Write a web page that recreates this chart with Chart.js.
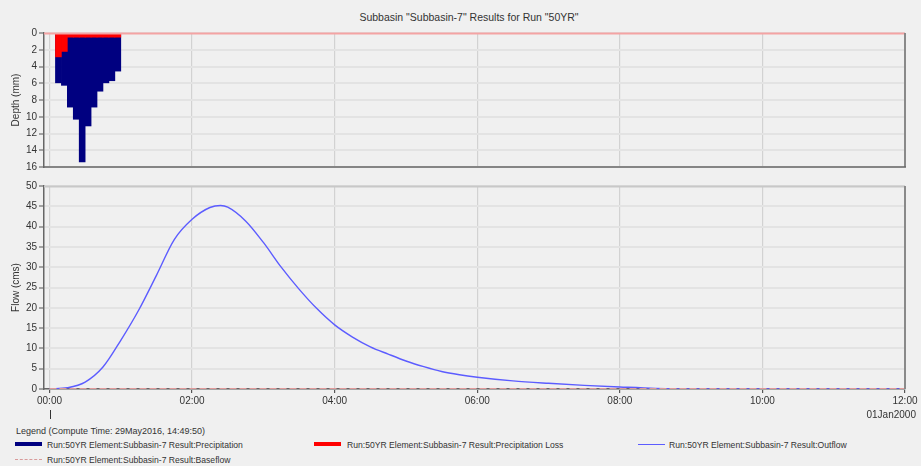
<!DOCTYPE html>
<html>
<head>
<meta charset="utf-8">
<script src="https://cdn.jsdelivr.net/npm/chart.js@4.4.0/dist/chart.umd.min.js"></script>
<style>
  body { margin: 0; background: #f0f0f0; font-family: "Liberation Sans", Arial, sans-serif; color: #333; }
  #wrap { position: relative; width: 921px; height: 466px; overflow: hidden; }
  #title { position: absolute; top: 11px; left: 0; width: 938px; text-align: center; font-size: 10.5px; color: #333; }
  canvas { position: absolute; left: 0; }
  #depthCanvas { top: 0; }
  #flowCanvas { top: 175px; }
  .txt { position: absolute; font-size: 8.6px; color: #333; white-space: nowrap; }
  .sw { position: absolute; width: 27px; }
</style>
</head>
<body>
<div id="wrap">
  <div id="title">Subbasin "Subbasin-7" Results for Run "50YR"</div>
  <canvas id="depthCanvas" width="921" height="175"></canvas>
  <canvas id="flowCanvas" width="921" height="250"></canvas>

  <div class="txt" style="top:409px; right:5px; font-size:10px;">01Jan2000</div>
  <div class="txt" style="top:426px; left:16px; font-size:9px;">Legend (Compute Time: 29May2016, 14:49:50)</div>

  <div class="sw" style="top:442px; left:15px; height:4px; background:#000080;"></div>
  <div class="txt" style="top:440px; left:47px;">Run:50YR Element:Subbasin-7 Result:Precipitation</div>

  <div class="sw" style="top:442px; left:314px; height:4px; background:#ff0000;"></div>
  <div class="txt" style="top:440px; left:347px;">Run:50YR Element:Subbasin-7 Result:Precipitation Loss</div>

  <div class="sw" style="top:444px; left:638px; height:1px; background:#5c5cff;"></div>
  <div class="txt" style="top:440px; left:669px;">Run:50YR Element:Subbasin-7 Result:Outflow</div>

  <div class="sw" style="top:459px; left:15px; height:0; border-top:1px dashed #d89a9a;"></div>
  <div class="txt" style="top:455px; left:47px;">Run:50YR Element:Subbasin-7 Result:Baseflow</div>
</div>

<script>
// ---------------------------------------------------------
// Data
// ---------------------------------------------------------
// x axis tick marks, hours from 01Jan2000 00:00
const tickHours = [0, 2, 4, 6, 8, 10, 12];

// 5-minute precipitation intervals, end time in minutes
const precipEndMin = [10, 15, 20, 25, 30, 35, 40, 45, 50, 55, 60];
const precipDepth  = [5.95, 6.25, 8.85, 10.3, 15.4, 11.1, 8.85, 6.95, 5.95, 5.7, 4.55];
const lossDepth    = [2.85, 2.2, 0.5, 0.5, 0.5, 0.5, 0.5, 0.5, 0.5, 0.5, 0.5];

// outflow hydrograph (hours, cms)
const flowHours = [0, 0.25, 0.5, 0.75, 1, 1.25, 1.5, 1.75, 2, 2.25, 2.4, 2.5, 2.75, 3, 3.25, 3.5, 3.75,
                   4, 4.25, 4.5, 4.75, 5, 5.25, 5.5, 5.75, 6, 6.5, 7, 7.5, 8, 8.5, 9, 10, 11, 12];
const outflow   = [0, 0.3, 1.7, 5.4, 12.0, 19.4, 28.0, 36.8, 41.8, 44.7, 45.2, 44.8, 41.4, 36.1, 30.0, 24.6, 19.8,
                   15.8, 12.8, 10.4, 8.6, 6.9, 5.5, 4.3, 3.5, 2.9, 2.0, 1.4, 0.9, 0.5, 0.15, 0, 0, 0, 0];
const baseflow  = [0, 0];
const baseHours = [0, 12];

// ---------------------------------------------------------
// Shared layout bits
// ---------------------------------------------------------
const PLOT_LEFT = 44;
const X_MIN = -(49.5 - PLOT_LEFT) / ((905 - 49.5) / 12);   // small margin before 00:00
const TICK_FONT = { family: "Liberation Sans, Arial, sans-serif", size: 10 };
const TEXT = '#333';

const pad2 = n => String(n).padStart(2, '0');

// plot frame: right edge, top edge, bottom edge when the x axis has no border
function framePlugin(topColor, drawBottom) {
  return {
    id: 'frame',
    afterDraw(chart) {
      const { ctx, chartArea: a } = chart;
      ctx.save();
      ctx.lineWidth = 2;
      ctx.strokeStyle = topColor;
      ctx.beginPath(); ctx.moveTo(a.left, a.top + 0.5); ctx.lineTo(a.right, a.top + 0.5); ctx.stroke();
      ctx.strokeStyle = '#8a8a8a';
      ctx.beginPath(); ctx.moveTo(a.right, a.top); ctx.lineTo(a.right, a.bottom); ctx.stroke();
      if (drawBottom) {
        ctx.lineWidth = 1.5;
        ctx.strokeStyle = '#666';
        ctx.beginPath(); ctx.moveTo(a.left, a.bottom); ctx.lineTo(a.right + 1, a.bottom); ctx.stroke();
      }
      ctx.restore();
    }
  };
}

// date boundary marker under 00:00
const dayMarker = {
  id: 'dayMarker',
  afterDraw(chart) {
    const x = Math.round(chart.scales.x.getPixelForValue(0)) + 0.5;
    const ctx = chart.ctx;
    ctx.save();
    ctx.strokeStyle = '#333';
    ctx.lineWidth = 1;
    ctx.beginPath(); ctx.moveTo(x, 235); ctx.lineTo(x, 244); ctx.stroke();
    ctx.restore();
  }
};

function xScale(showTicks, height) {
  return {
    type: 'linear',
    min: X_MIN,
    max: 12,
    offset: false,
    afterBuildTicks: s => { s.ticks = tickHours.map(v => ({ value: v })); },
    afterFit: s => { s.height = height; },
    ticks: {
      display: showTicks,
      autoSkip: false,
      maxRotation: 0,
      padding: 2,
      color: TEXT,
      font: TICK_FONT,
      callback: v => pad2(v) + ':00'
    },
    grid: { offset: false, color: '#d2d2d2', lineWidth: 1.2, drawTicks: showTicks, tickColor: '#555', tickLength: 4 },
    border: { display: showTicks, color: '#666', width: 1.5 }
  };
}

function yScale(opts) {
  return Object.assign({
    afterFit: s => { s.width = PLOT_LEFT; },
    ticks: { color: TEXT, font: TICK_FONT, padding: 2, autoSkip: false },
    grid: { color: '#e3e3e3', lineWidth: 2, tickColor: '#555', tickLength: 5, tickWidth: 1 },
    border: { color: '#666', width: 1.5 }
  }, opts);
}

// ---------------------------------------------------------
// Top panel: precipitation hyetograph (inverted)
// ---------------------------------------------------------
const intervalMid = precipEndMin.map(m => (m - 2.5) / 60);

new Chart(document.getElementById('depthCanvas'), {
  type: 'bar',
  data: {
    datasets: [
      {
        label: 'Precipitation Loss',
        data: intervalMid.map((x, i) => ({ x, y: lossDepth[i] })),
        backgroundColor: '#ff0000',
        grouped: false, barPercentage: 1, categoryPercentage: 1, order: 1
      },
      {
        label: 'Precipitation',
        data: intervalMid.map((x, i) => ({ x, y: precipDepth[i] })),
        backgroundColor: '#000080',
        grouped: false, barPercentage: 1, categoryPercentage: 1, order: 2
      }
    ]
  },
  options: {
    responsive: false,
    animation: false,
    layout: { padding: { top: 33, right: 16, bottom: 0, left: 0 } },
    plugins: { legend: { display: false }, tooltip: { enabled: false } },
    scales: {
      x: xScale(false, 7),
      y: yScale({
        reverse: true, min: 0, max: 16,
        ticks: { stepSize: 2, color: TEXT, font: TICK_FONT, padding: 2, autoSkip: false },
        title: { display: true, text: 'Depth (mm)', color: TEXT, font: TICK_FONT, padding: { top: 10, bottom: 0 } }
      })
    }
  },
  plugins: [framePlugin('#f4a3a3', true)]
});

// ---------------------------------------------------------
// Bottom panel: outflow hydrograph
// ---------------------------------------------------------
new Chart(document.getElementById('flowCanvas'), {
  type: 'line',
  data: {
    datasets: [
      {
        label: 'Outflow',
        data: flowHours.map((x, i) => ({ x, y: outflow[i] })),
        borderColor: '#5c5cff',
        borderWidth: 1.4,
        pointRadius: 0,
        cubicInterpolationMode: 'monotone',
        order: 2
      },
      {
        label: 'Baseflow',
        data: baseHours.map((x, i) => ({ x, y: baseflow[i] })),
        borderColor: '#e09a9a',
        borderWidth: 2,
        borderDash: [7, 3],
        pointRadius: 0,
        order: 1
      }
    ]
  },
  options: {
    responsive: false,
    animation: false,
    layout: { padding: { top: 11, right: 16, bottom: 0, left: 0 } },
    plugins: { legend: { display: false }, tooltip: { enabled: false } },
    scales: {
      x: xScale(true, 36),
      y: yScale({
        min: 0, max: 50,
        ticks: { stepSize: 5, color: TEXT, font: TICK_FONT, padding: 2, autoSkip: false },
        title: { display: true, text: 'Flow (cms)', color: TEXT, font: TICK_FONT, padding: { top: 10, bottom: 0 } }
      })
    }
  },
  plugins: [framePlugin('#c8c8c8', false), dayMarker]
});
</script>
</body>
</html>
